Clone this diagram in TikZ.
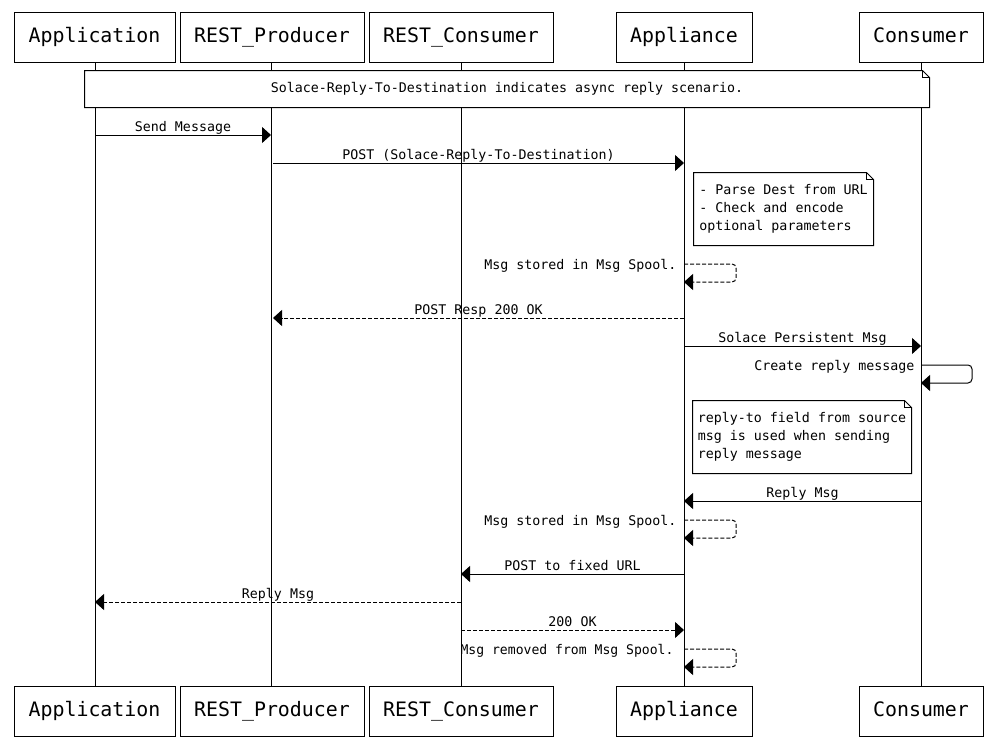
\documentclass[tikz,border=0pt]{standalone}
\usepackage{fontspec}
\newfontfamily\dvm{DejaVu Sans Mono}
\usetikzlibrary{arrows.meta}
\begin{document}
\begin{tikzpicture}[x=1pt,y=-1pt,line width=1pt,
  part/.style={draw,fill=white,minimum height=50pt,inner sep=0pt,text height=15pt,text depth=4.5pt,font=\dvm\fontsize{19.9}{24}\selectfont},
  lbl/.style={font=\dvm\fontsize{13.3}{18}\selectfont,inner sep=0pt,text height=10pt,text depth=3.3pt},
  notetxt/.style={font=\dvm\fontsize{13.3}{18}\selectfont,inner sep=0pt,align=left,fill=white},
  lifeline/.style={line width=1pt},
  msg/.style={-{Triangle[length=9pt,width=16pt]}},
  dmsg/.style={-{Triangle[length=9pt,width=16pt]},dash pattern=on 4pt off 2pt},
]
\useasboundingbox[fill=white] (0,0) rectangle (994,744);
% participants
\node[part,minimum width=161pt] (appT) at (94.5,37) {Application};
\node[part,minimum width=184pt] (prodT) at (272,37) {REST\_Producer};
\node[part,minimum width=184pt] (consT) at (461,37) {REST\_Consumer};
\node[part,minimum width=136pt] (applT) at (684,37) {Appliance};
\node[part,minimum width=124pt] (custT) at (921,37) {Consumer};
\node[part,minimum width=161pt] (appB) at (94.5,711) {Application};
\node[part,minimum width=184pt] (prodB) at (272,711) {REST\_Producer};
\node[part,minimum width=184pt] (consB) at (461,711) {REST\_Consumer};
\node[part,minimum width=136pt] (applB) at (684,711) {Appliance};
\node[part,minimum width=124pt] (custB) at (921,711) {Consumer};
% lifelines
\draw[lifeline] (95,62) coordinate (appL1) -- (95,686) coordinate (appL2);
\draw[lifeline] (271,62) coordinate (prodL1) -- (271,686) coordinate (prodL2);
\draw[lifeline] (461,62) coordinate (consL1) -- (461,686) coordinate (consL2);
\draw[lifeline] (684,62) coordinate (applL1) -- (684,686) coordinate (applL2);
\draw[lifeline] (921,62) coordinate (custL1) -- (921,686) coordinate (custL2);
% notes
\node[notetxt,minimum width=844pt,minimum height=36pt] (n1) at (507,89) {Solace-Reply-To-Destination indicates async reply scenario.};
\node[notetxt,minimum width=179pt,minimum height=72pt] (n2) at (783.5,209) {- Parse Dest from URL\\- Check and encode\\optional parameters};
\node[notetxt,minimum width=218pt,minimum height=72pt] (n3) at (802,437) {reply-to field from source\\msg is used when sending\\reply message};
\foreach \n in {n1,n2,n3}{
  \draw (\n.north west) -- ([xshift=-7pt]\n.north east) -- ([yshift=-7pt]\n.north east) -- (\n.south east) -- (\n.south west) -- cycle;
  \draw[line width=0.8pt] ([xshift=-7pt]\n.north east) -- ([xshift=-7pt,yshift=-7pt]\n.north east) -- ([yshift=-7pt]\n.north east);
}
% message coordinates
\coordinate (m1a) at (95,135); \coordinate (m1b) at (271,135);
\coordinate (m2a) at (273,163); \coordinate (m2b) at (684,163);
\coordinate (s1a) at (684,264); \coordinate (s1b) at (684,282);
\coordinate (m3a) at (684,318); \coordinate (m3b) at (273,318);
\coordinate (m4a) at (684,346); \coordinate (m4b) at (921,346);
\coordinate (s2a) at (921,365); \coordinate (s2b) at (921,383);
\coordinate (m5a) at (921,501); \coordinate (m5b) at (684,501);
\coordinate (s3a) at (684,520); \coordinate (s3b) at (684,538);
\coordinate (m6a) at (684,574); \coordinate (m6b) at (461,574);
\coordinate (m7a) at (461,602); \coordinate (m7b) at (95,602);
\coordinate (m8a) at (461,630); \coordinate (m8b) at (684,630);
\coordinate (s4a) at (684,649); \coordinate (s4b) at (684,667);
% messages
\tikzset{above lbl/.style={lbl,yshift=7pt}}
\draw[msg] (m1a) -- node[above lbl] {Send Message} (m1b);
\draw[msg] (m2a) -- node[above lbl] {POST (Solace-Reply-To-Destination)} (m2b);
\draw[dmsg,rounded corners=4pt] (s1a) -- ++(52,0) -- ++(0,18) -- (s1b);
\node[lbl,anchor=east] (l1) at (677,266) {Msg stored in Msg Spool.};
\draw[dmsg] (m3a) -- node[above lbl] {POST Resp 200 OK} (m3b);
\draw[msg] (m4a) -- node[above lbl] {Solace Persistent Msg} (m4b);
\draw[msg,rounded corners=4pt] (s2a) -- ++(51,0) -- ++(0,18) -- (s2b);
\node[lbl,anchor=east] (l2) at (915,367) {Create reply message};
\draw[msg] (m5a) -- node[above lbl] {Reply Msg} (m5b);
\draw[dmsg,rounded corners=4pt] (s3a) -- ++(52,0) -- ++(0,18) -- (s3b);
\node[lbl,anchor=east] (l3) at (677,522) {Msg stored in Msg Spool.};
\draw[msg] (m6a) -- node[above lbl] {POST to fixed URL} (m6b);
\draw[dmsg] (m7a) -- node[above lbl] {Reply Msg} (m7b);
\draw[dmsg] (m8a) -- node[above lbl] {200 OK} (m8b);
\draw[dmsg,rounded corners=4pt] (s4a) -- ++(52,0) -- ++(0,18) -- (s4b);
\node[lbl,anchor=east,xscale=0.985] (l4) at (674,651) {Msg removed from Msg Spool.};
\end{tikzpicture}
\end{document}
